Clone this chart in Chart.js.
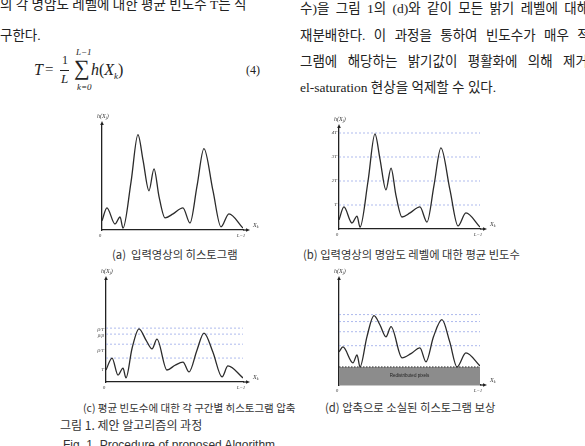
<!DOCTYPE html>
<html><head><meta charset="utf-8">
<script src="https://cdn.jsdelivr.net/npm/chart.js@4.4.0/dist/chart.umd.min.js"></script>
<style>
html,body{margin:0;padding:0;background:#fff;}
#page{position:relative;width:585px;height:446px;overflow:hidden;background:#fff;}
.t{position:absolute;white-space:nowrap;color:#222;}
.body{font-family:"Liberation Serif","Noto Sans CJK KR";font-size:13.5px;line-height:16px;}
.cap{font-family:"Noto Sans CJK KR";font-size:11.3px;line-height:13px;color:#333;}
.eq{font-family:"Liberation Serif";font-style:italic;color:#222;position:absolute;white-space:nowrap;}
.panel{position:absolute;}
</style></head><body><div id="page">

<div class="t body" style="left:0;top:-3px;">의 각 명암도 레벨에 대한 평균 빈도수 T는 식</div>
<div class="t body" style="left:0;top:28px;">구한다.</div>

<div class="eq" style="left:34px;top:61px;font-size:16px;">T</div>
<div class="eq" style="left:45px;top:61px;font-size:15px;font-style:normal;">=</div>
<div class="eq" style="left:62px;top:53px;font-size:12px;font-style:normal;">1</div>
<div style="position:absolute;left:60px;top:70px;width:9px;height:1px;background:#222;"></div>
<div class="eq" style="left:61px;top:71px;font-size:13px;">L</div>
<div class="eq" style="left:76px;top:47px;font-size:9px;">L−1</div>
<div class="eq" style="left:74px;top:55px;font-size:22px;font-style:normal;">∑</div>
<div class="eq" style="left:77px;top:82px;font-size:9px;">k=0</div>
<div class="eq" style="left:91px;top:61px;font-size:16px;">h<span style="font-style:normal">(</span>X<sub style="font-size:9px">k</sub><span style="font-style:normal">)</span></div>
<div class="eq" style="left:246px;top:63px;font-size:12px;font-style:normal;">(4)</div>

<div class="t body" style="left:300px;top:1px;word-spacing:3px;">수)을 그림 1의 (d)와 같이 모든 밝기 레벨에 대해</div>
<div class="t body" style="left:300px;top:28px;word-spacing:5px;">재분배한다. 이 과정을 통하여 빈도수가 매우 적</div>
<div class="t body" style="left:300px;top:54px;word-spacing:7px;">그램에 해당하는 밝기값이 평활화에 의해 제거</div>
<div class="t body" style="left:300px;top:80px;">el-saturation 현상을 억제할 수 있다.</div>

<div class="panel" id="pa"><canvas id="ca"></canvas></div>
<div class="panel" id="pb"><canvas id="cb"></canvas></div>
<div class="panel" id="pc"><canvas id="cc"></canvas></div>
<div class="panel" id="pd"><canvas id="cd"></canvas></div>

<div class="t cap" style="left:112px;top:248px;">(a)&nbsp; 입력영상의 히스토그램</div>
<div class="t cap" style="left:303px;top:248px;">(b) 입력영상의 명암도 레벨에 대한 평균 빈도수</div>
<div class="t cap" style="left:83px;top:401px;font-size:10.5px;">(c) 평균 빈도수에 대한 각 구간별 히스토그램 압축</div>
<div class="t cap" style="left:325px;top:401px;">(d) 압축으로 소실된 히스토그램 보상</div>
<div class="t" style="left:60px;top:417px;font-family:'Noto Sans CJK KR';font-size:12px;line-height:15px;color:#333;">그림 1. 제안 알고리즘의 과정</div>
<div class="t" style="left:63px;top:438px;font-family:'Liberation Sans';font-size:12px;line-height:14px;color:#333;">Fig. 1. Procedure of proposed Algorithm</div>

</div>
<script>
// ---- data (levels in units of the mean frequency T, x = % of grey-level range 0..L-1) ----
const histX = [0, 3.5, 9.2, 12.8, 14.9, 20.6, 25.5, 29.1, 33.3, 36.9, 40.4, 44.7, 50.4, 57.4, 62.4, 67.4, 72.3, 78.7, 84.4, 90, 100];
const histH = [0.38, 0.92, 0.25, 0.54, 0.08, 2.0, 3.96, 2.9, 1.63, 2.54, 1.4, 0.5, 0.67, 0.92, 0.29, 1.83, 3.38, 1.63, 0.13, 0.67, 0.08];

const clipX = [0, 4.4, 8.8, 12.4, 14.6, 19.0, 24.1, 29.2, 33.6, 37.2, 44.5, 50.4, 56.2, 60.6, 66.4, 71.5, 78.0, 84.7, 89, 100];
const clipH = [0.5, 1.0, 0.29, 0.58, 0.17, 1.4, 2.22, 1.75, 1.38, 1.79, 0.5, 0.7, 0.83, 0.42, 1.33, 2.04, 1.25, 0.21, 0.67, 0.17];

const compX = [0, 2.8, 9.9, 12.8, 14.9, 19.8, 24.8, 29.0, 33.3, 36.9, 44.7, 51.0, 57.4, 61.7, 67.0, 73.0, 78.5, 83.7, 90, 100];
const compH = [1.38, 1.58, 0.92, 1.25, 0.75, 2.0, 2.88, 2.5, 2.0, 2.42, 1.13, 1.3, 1.54, 0.96, 2.0, 2.71, 1.8, 0.75, 1.33, 0.79];

const meanLines = [1, 2, 3, 4];
const meanLabels = ['T', '2T', '3T', '4T'];
const clipLines = [1.0, 1.58, 2.0, 2.25];
const clipTickPos = [0.5, 1.29, 1.92, 2.2];
const clipTickLabels = ['T', 'β/T', 'β/β', 'β/T'];
const compLines = [1.63, 2.21, 2.63, 2.92];
const redistLevel = 0.75;
const xTickVals = [0, 100];
const xTickLabels = ['0', 'L−1'];

// ---- helpers ----
function pts(xs, ys){ return xs.map((x,i)=>({x, y: ys[i]})); }
function hline(v){ return [{x:0,y:v},{x:100,y:v}]; }

function drawSub(ctx, x, y, parts){
  let cx = x;
  parts.forEach(([t, sub])=>{
    ctx.font = sub ? 'italic 4px "Liberation Serif"' : 'italic 6px "Liberation Serif"';
    ctx.fillText(t, cx, sub ? y + 2 : y);
    cx += ctx.measureText(t).width;
  });
}

const axisDeco = {
  id: 'axisDeco',
  afterDraw(chart, args, o){
    const {ctx, chartArea: a} = chart;
    ctx.save();
    ctx.strokeStyle = '#222'; ctx.fillStyle = '#222'; ctx.lineWidth = 1.3;
    ctx.beginPath(); ctx.moveTo(a.right, a.bottom); ctx.lineTo(a.right + o.ext, a.bottom); ctx.stroke();
    ctx.beginPath();
    ctx.moveTo(a.right + o.ext + 3, a.bottom);
    ctx.lineTo(a.right + o.ext - 1, a.bottom - 1.8);
    ctx.lineTo(a.right + o.ext - 1, a.bottom + 1.8);
    ctx.closePath(); ctx.fill();
    ctx.beginPath();
    ctx.moveTo(a.left, a.top - 3);
    ctx.lineTo(a.left - 1.8, a.top + 1);
    ctx.lineTo(a.left + 1.8, a.top + 1);
    ctx.closePath(); ctx.fill();
    ctx.fillStyle = '#333';
    ctx.textBaseline = 'middle';
    drawSub(ctx, a.left - 5, a.top - 8, [['h(X', false], ['j', true], [')', false]]);
    drawSub(ctx, a.right + o.ext + 6, a.bottom - 5, [['X', false], ['k', true]]);
    if (o.boxText){
      const xs = chart.scales.x, ys = chart.scales.y;
      ctx.font = '4.5px "Liberation Sans"';
      ctx.textAlign = 'center';
      ctx.fillStyle = '#222';
      ctx.fillText(o.boxText, xs.getPixelForValue(50), ys.getPixelForValue(redistLevel/2));
    }
    ctx.restore();
  }
};

function makePanel(divId, canvasId, g, datasets, yTicks, yLabels, yMax, extra){
  const padL = 16, padR = 18, padT = 12, padB = 12;
  const div = document.getElementById(divId);
  const W = (g.endX - g.axisX) + padL + padR;
  const H = (g.axisY - g.topY) + padT + padB;
  div.style.left = (g.axisX - padL) + 'px';
  div.style.top = (g.topY - padT) + 'px';
  div.style.width = W + 'px';
  div.style.height = H + 'px';
  return new Chart(document.getElementById(canvasId), {
    type: 'line',
    data: { datasets },
    options: {
      responsive: true, maintainAspectRatio: false, animation: false,
      devicePixelRatio: 1,
      layout: { padding: { top: padT, right: padR, left: 0, bottom: 0 }, autoPadding: false },
      plugins: { legend: { display: false }, tooltip: { enabled: false },
                 axisDeco: Object.assign({ ext: 4 }, extra || {}) },
      elements: { point: { radius: 0 } },
      scales: {
        x: {
          type: 'linear', min: 0, max: 100,
          afterFit: s => { s.height = padB; },
          afterBuildTicks: s => { s.ticks = xTickVals.map(v => ({ value: v })); },
          grid: { display: false, drawTicks: false },
          border: { display: true, color: '#222', width: 1.3 },
          ticks: { padding: 3, labelOffset: -2, color: '#444', maxRotation: 0, autoSkip: false,
                   font: { family: 'Liberation Serif', style: 'italic', size: 5 },
                   callback: (v) => xTickLabels[xTickVals.indexOf(v)] }
        },
        y: {
          type: 'linear', min: 0, max: yMax,
          afterFit: s => { s.width = padL; },
          afterBuildTicks: s => { s.ticks = yTicks.map(v => ({ value: v })); },
          grid: { display: false, drawTicks: false },
          border: { display: true, color: '#222', width: 1.3 },
          ticks: { display: yTicks.length > 0, padding: 2, color: '#444', autoSkip: false,
                   font: { family: 'Liberation Serif', style: 'italic', size: 5 },
                   callback: (v) => yLabels[yTicks.indexOf(v)] }
        }
      }
    },
    plugins: [axisDeco]
  });
}

const curveStyle = { borderColor: '#2b2b2b', borderWidth: 1.3, cubicInterpolationMode: 'monotone', fill: false, order: 0 };
const dashStyle = { borderColor: 'rgba(120,140,225,0.75)', borderWidth: 0.8, borderDash: [2, 2], fill: false, order: 1 };

makePanel('pa', 'ca', { axisX: 102, axisY: 230, topY: 124, endX: 243 },
  [Object.assign({ data: pts(histX, histH) }, curveStyle)], [], [], 4.4);

makePanel('pb', 'cb', { axisX: 339, axisY: 229, topY: 127, endX: 480 },
  [Object.assign({ data: pts(histX, histH) }, curveStyle)]
    .concat(meanLines.map(v => Object.assign({ data: hline(v) }, dashStyle))),
  meanLines, meanLabels, 4.25);

makePanel('pc', 'cc', { axisX: 106, axisY: 382, topY: 279, endX: 243 },
  [Object.assign({ data: pts(clipX, clipH) }, curveStyle)]
    .concat(clipLines.map(v => Object.assign({ data: hline(v) }, dashStyle))),
  clipTickPos, clipTickLabels, 4.3);

makePanel('pd', 'cd', { axisX: 339, axisY: 385, topY: 279, endX: 480 },
  [Object.assign({ data: pts(compX, compH) }, curveStyle)]
    .concat(compLines.map(v => Object.assign({ data: hline(v) }, dashStyle)))
    .concat([{ data: hline(redistLevel), borderColor: '#333', borderWidth: 1, borderDash: [1.5, 1.5],
               backgroundColor: '#8c8c8c', fill: 'origin', order: 2 }]),
  [], [], 4.4, { boxText: 'Redistributed pixels' });
</script>
</body></html>
